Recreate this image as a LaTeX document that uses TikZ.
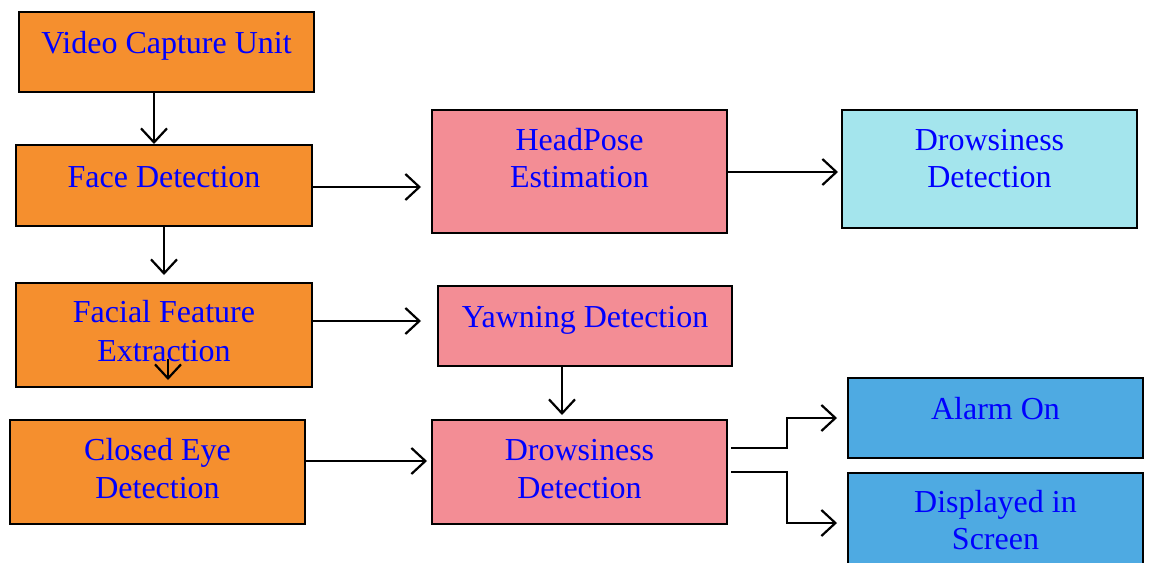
\documentclass[tikz,border=0pt]{standalone}
\usepackage{fontspec}
\setmainfont{Liberation Serif}
\usetikzlibrary{arrows.meta,fit}
\definecolor{orangeF}{RGB}{245,143,46}
\definecolor{pinkF}{RGB}{243,141,149}
\definecolor{cyanF}{RGB}{164,229,237}
\definecolor{blueF}{RGB}{78,170,226}
\definecolor{txtBlue}{RGB}{0,0,255}
\tikzset{
  box/.style={draw=black, line width=1pt, inner sep=0pt},
  lbl/.style={anchor=base, inner sep=0pt, text=txtBlue, font=\fontsize{16}{19}\selectfont},
  arr/.style={-{Straight Barb[length=7pt,width=13pt]}, line width=1.1pt, draw=black},
}
\begin{document}
\begin{tikzpicture}[x=0.5pt,y=-0.5pt]
\useasboundingbox (0,0) rectangle (1166,562);
\clip (0,0) rectangle (1166,562);
% boxes
\node[box, fill=orangeF, fit={(19,12) (314,92)}] (vcu) {};
\node[box, fill=orangeF, fit={(16,145) (312,226)}] (face) {};
\node[box, fill=orangeF, fit={(16,283) (312,387)}] (ffe) {};
\node[box, fill=orangeF, fit={(10,420) (305,524)}] (ce) {};
\node[box, fill=pinkF, fit={(432,110) (727,233)}] (head) {};
\node[box, fill=cyanF, fit={(842,110) (1137,228)}] (drowA) {};
\node[box, fill=pinkF, fit={(438,286) (732,366)}] (yawn) {};
\node[box, fill=pinkF, fit={(432,420) (727,524)}] (drowB) {};
\node[box, fill=blueF, fit={(848,378) (1143,458)}] (alarm) {};
\node[box, fill=blueF, fit={(848,473) (1143,620)}] (disp) {};
% texts
\node[lbl] (vcuT) at (166.5,54) {Video Capture Unit};
\node[lbl] (faceT) at (164,187) {Face Detection};
\node[lbl] (ffeT1) at (164,322) {Facial Feature};
\node[lbl] (ffeT2) at (164,361) {Extraction};
\node[lbl] (ceT1) at (157.5,460) {Closed Eye};
\node[lbl] (ceT2) at (157.5,498) {Detection};
\node[lbl] (headT1) at (579.5,150) {HeadPose};
\node[lbl] (headT2) at (579.5,187) {Estimation};
\node[lbl] (drowAT1) at (989.5,150) {Drowsiness};
\node[lbl] (drowAT2) at (989.5,187) {Detection};
\node[lbl] (yawnT) at (585,327) {Yawning Detection};
\node[lbl] (drowBT1) at (579.5,460) {Drowsiness};
\node[lbl] (drowBT2) at (579.5,498) {Detection};
\node[lbl] (alarmT) at (995.5,419) {Alarm On};
\node[lbl] (dispT1) at (995.5,512) {Displayed in};
\node[lbl] (dispT2) at (995.5,549) {Screen};
% connectors
\draw[arr] ([xshift=68pt]vcu.south west) -- ([xshift=69.5pt]face.north west);
\draw[arr] ([xshift=74.5pt]face.south west) -- ([xshift=74.5pt,yshift=3.5pt]ffe.north west);
\draw[arr] ([xshift=76.5pt,yshift=14.5pt]ffe.south west) -- ([xshift=79.5pt,yshift=19.5pt]ce.north west);
\draw[arr] ([yshift=-0.75pt]face.east) -- ([xshift=-5pt,yshift=-7.75pt]head.west);
\draw[arr] ([yshift=-0.25pt]head.east) -- ([xshift=-1.5pt,yshift=-0.25pt]head.east -| drowA.west);
\draw[arr] ([yshift=7pt]ffe.east) -- ([xshift=-8pt,yshift=2.5pt]yawn.west);
\draw[arr] ([xshift=-11.5pt]yawn.south) -- ([xshift=-8.75pt,yshift=2pt]drowB.north);
\draw[arr] ([yshift=5.5pt]ce.east) -- ([xshift=-2pt,yshift=5.5pt]drowB.west);
\draw[arr] ([xshift=1.5pt,yshift=12pt]drowB.east) -- ++(28pt,0) |- ([xshift=-5pt]alarm.west);
\draw[arr] ([xshift=1.5pt]drowB.east) -- ++(28pt,0) |- ([xshift=-5pt,yshift=-25.5pt]disp.north west);
\end{tikzpicture}
\end{document}
